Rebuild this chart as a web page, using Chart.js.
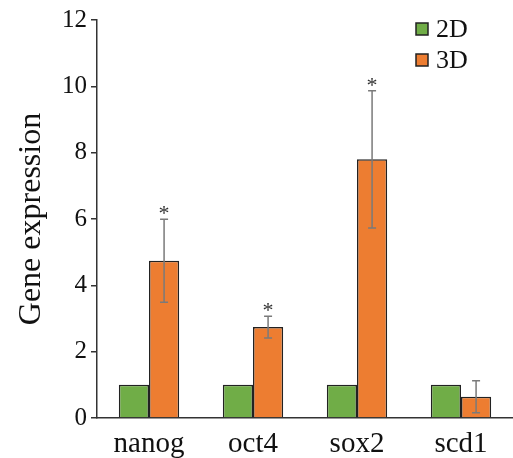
<!DOCTYPE html>
<html lang="en">
<head>
    <meta charset="UTF-8">
    <title>Gene expression 2D vs 3D</title>
    <script src="https://cdn.jsdelivr.net/npm/chart.js"></script>
    <style>
        html, body { margin: 0; padding: 0; background: #fff; }
        #wrap { width: 513px; height: 458px; }
    </style>
</head>
<body>
    <div id="wrap"><canvas id="geneChart"></canvas></div>

    <script>
        // values
        const genes = ['nanog', 'oct4', 'sox2', 'scd1'];
        const expr2D = [1, 1, 1, 1];
        const expr3D = [4.74, 2.74, 7.80, 0.64];
        const err2D = [0, 0, 0, 0];
        const err3D = [1.25, 0.33, 2.07, 0.48];
        const signif3D = [true, true, true, false];
        const yTicks = [0, 2, 4, 6, 8, 10, 12];

        const serif = '"Liberation Serif", "Times New Roman", serif';
        const axisColor = '#333';

        // error bars + significance stars
        const errorBars = {
            id: 'errorBars',
            afterDatasetsDraw(chart) {
                const ctx = chart.ctx;
                const y = chart.scales.y;
                const errs = [err2D, err3D];
                ctx.save();
                chart.data.datasets.forEach((ds, di) => {
                    const meta = chart.getDatasetMeta(di);
                    meta.data.forEach((bar, i) => {
                        const e = errs[di][i];
                        if (!e) return;
                        const v = ds.data[i];
                        const top = y.getPixelForValue(v + e);
                        const bot = y.getPixelForValue(v - e);
                        ctx.strokeStyle = '#7a7a7a';
                        ctx.lineWidth = 1.5;
                        ctx.beginPath();
                        ctx.moveTo(bar.x, top); ctx.lineTo(bar.x, bot);
                        ctx.moveTo(bar.x - 4, top); ctx.lineTo(bar.x + 4, top);
                        ctx.moveTo(bar.x - 4, bot); ctx.lineTo(bar.x + 4, bot);
                        ctx.stroke();
                        if (di === 1 && signif3D[i]) {
                            ctx.fillStyle = '#333';
                            ctx.font = '22px ' + serif;
                            ctx.textAlign = 'center';
                            ctx.textBaseline = 'alphabetic';
                            ctx.fillText('*', bar.x, top + 1);
                        }
                    });
                });
                ctx.restore();
            }
        };

        // legend in the top right corner
        const cornerLegend = {
            id: 'cornerLegend',
            afterDraw(chart) {
                const ctx = chart.ctx;
                ctx.save();
                ctx.font = '26px ' + serif;
                ctx.textBaseline = 'middle';
                ctx.textAlign = 'left';
                chart.data.datasets.forEach((ds, i) => {
                    const cy = 29 + i * 31;
                    ctx.fillStyle = ds.backgroundColor;
                    ctx.strokeStyle = '#222';
                    ctx.lineWidth = 1.5;
                    ctx.fillRect(416, cy - 6, 12, 12);
                    ctx.strokeRect(416, cy - 6, 12, 12);
                    ctx.fillStyle = '#111';
                    ctx.fillText(ds.label, 436, cy + 1);
                });
                ctx.restore();
            }
        };

        new Chart(document.getElementById('geneChart'), {
            type: 'bar',
            data: {
                labels: genes,
                datasets: [
                    { label: '2D', data: expr2D, backgroundColor: '#70ad47', borderColor: '#222', borderWidth: 1.5 },
                    { label: '3D', data: expr3D, backgroundColor: '#ed7d31', borderColor: '#222', borderWidth: 1.5 }
                ]
            },
            options: {
                responsive: true,
                maintainAspectRatio: false,
                animation: false,
                datasets: { bar: { categoryPercentage: 0.58, barPercentage: 1.0 } },
                layout: { padding: { top: 20, right: 0, left: 0, bottom: 0 } },
                plugins: {
                    legend: { display: false },
                    tooltip: { enabled: false }
                },
                scales: {
                    x: {
                        grid: { display: false },
                        border: { display: true, color: axisColor, width: 1.5 },
                        ticks: { color: '#111', font: { family: serif, size: 29, lineHeight: 1 }, padding: 4 },
                        afterFit: s => { s.height = 40; }
                    },
                    y: {
                        min: 0,
                        max: 12,
                        afterBuildTicks: s => { s.ticks = yTicks.map(v => ({ value: v })); },
                        grid: { drawOnChartArea: false, drawTicks: true, tickLength: 6, color: axisColor, lineWidth: 1.5 },
                        border: { display: true, color: axisColor, width: 1.5 },
                        ticks: { color: '#111', font: { family: serif, size: 25 }, padding: 4 },
                        title: { display: true, text: 'Gene expression', color: '#111', font: { family: serif, size: 32 }, padding: { top: 12, bottom: 0 } },
                        afterFit: s => { s.width = 97; }
                    }
                }
            },
            plugins: [errorBars, cornerLegend]
        });
    </script>
</body>
</html>
